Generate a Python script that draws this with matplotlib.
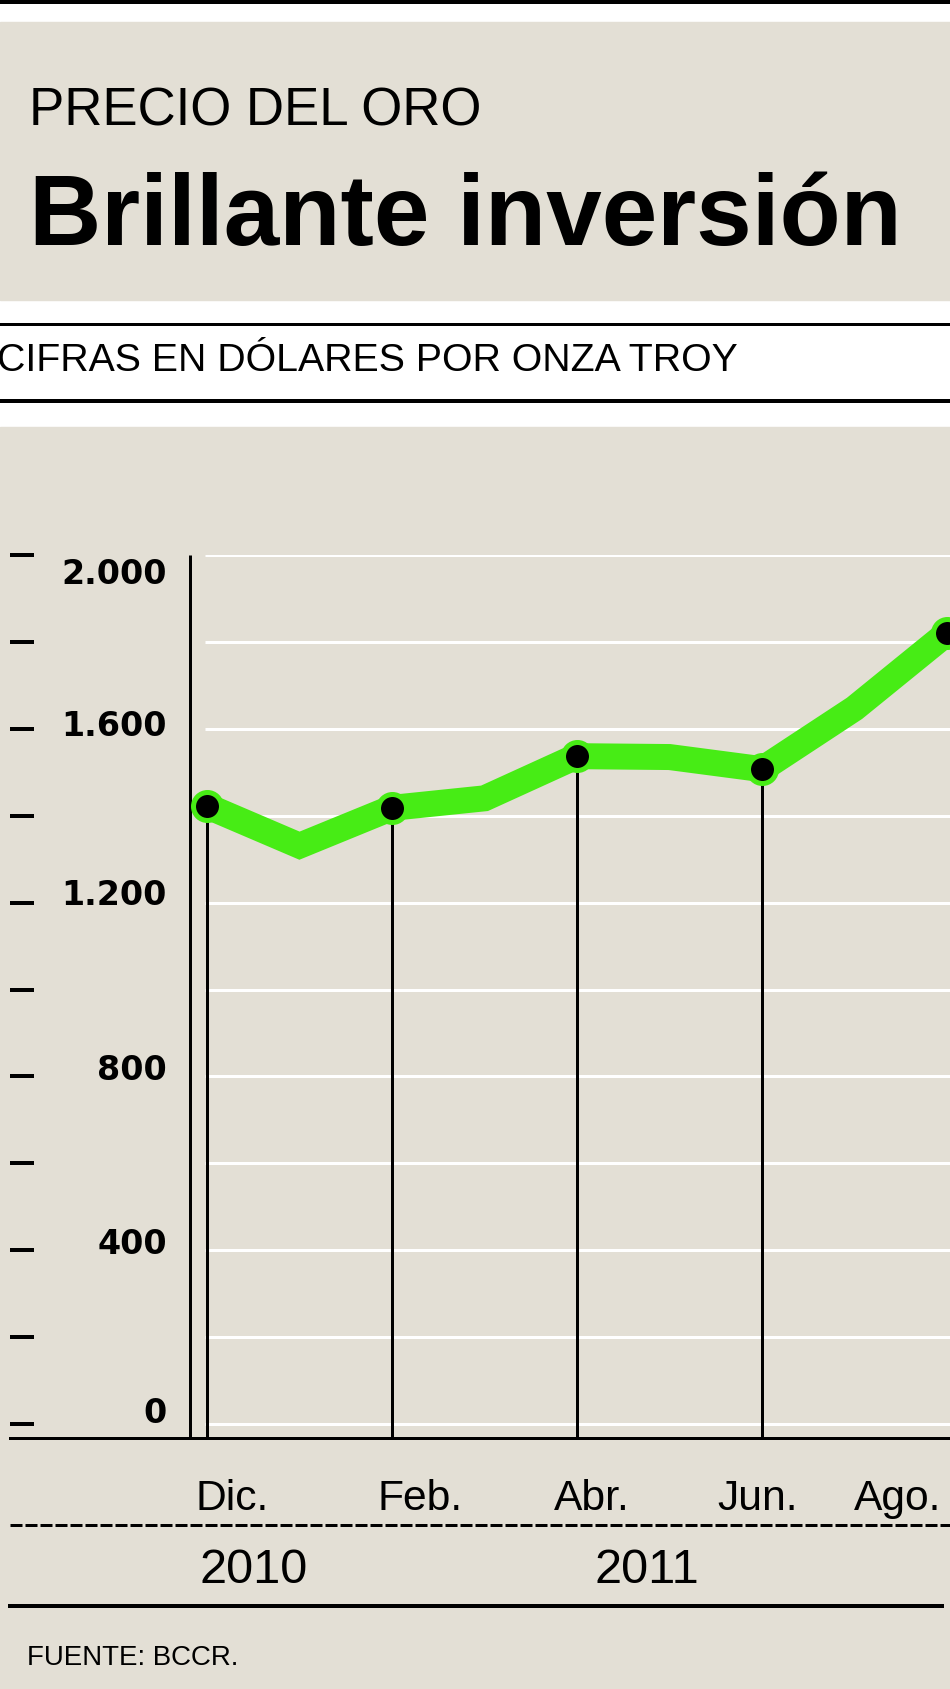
import numpy as np
import matplotlib
matplotlib.use("Agg")
import matplotlib.pyplot as plt
import matplotlib.transforms as mtransforms
from matplotlib import font_manager
from matplotlib.patches import Rectangle
from matplotlib.lines import Line2D

# datos
meses = ["Dic.", "Ene.", "Feb.", "Mar.", "Abr.", "May.", "Jun.", "Jul.", "Ago."]
precio = [1422, 1331, 1418, 1440, 1537, 1535, 1507, 1647, 1820]
marcados = [0, 2, 4, 6, 8]          # meses con punto y etiqueta
anios = ["2010", "2011"]
ticks_y = [0, 400, 800, 1200, 1600, 2000]
grid_y = np.arange(0, 2001, 200)

BEIGE = "#e3dfd5"
VERDE = "#47ec15"

# tipografia estrecha si existe; si no, Liberation Sans algo mas chica
nombres = {f.name for f in font_manager.fontManager.ttflist}
if "Liberation Sans Narrow" in nombres:
    NARROW, ESC = "Liberation Sans Narrow", 1.0
else:
    NARROW, ESC = "Liberation Sans", 0.83
plt.rcParams["font.family"] = ["Liberation Sans", "DejaVu Sans"]

W, H = 950, 1689
PT = 0.72  # px -> pt a 100 dpi


def fx(px):
    return px / W


def fy(px):
    return 1 - px / H


fig = plt.figure(figsize=(9.5, 16.89), dpi=100, facecolor="white")

# fondos y filetes del encabezado
fig.patches.append(Rectangle((0, fy(300)), 1, (300 - 22) / H, transform=fig.transFigure,
                             color=BEIGE, zorder=-2))
fig.patches.append(Rectangle((0, 0), 1, fy(427), transform=fig.transFigure,
                             color=BEIGE, zorder=-2))
for ypx, lw in [(2, 4), (323.5, 3), (400.5, 4)]:
    fig.add_artist(Line2D([0, 1], [fy(ypx), fy(ypx)], lw=lw * PT, color="black"))

fig.text(fx(29), fy(126), "PRECIO DEL ORO", fontsize=38, color="black", va="baseline")
fig.text(fx(29), fy(245), "Brillante inversión", fontsize=72, fontweight="bold",
         color="black", va="baseline")
fig.text(fx(-3), fy(371), "CIFRAS EN DÓLARES POR ONZA TROY", fontsize=34 * ESC,
         family=[NARROW, "DejaVu Sans"], va="baseline")

# area del grafico
mes_px = 92.5        # px por mes
x0_px = 207          # posicion de Dic.
px_por_unidad = (1424 - 555) / 2000
ax = fig.add_axes([fx(10), fy(1438), fx(940), (1438 - 555) / H])
ax.set_facecolor("none")
ax.set_zorder(1)
ax.set_xlim((10 - x0_px) / mes_px, (950 - x0_px) / mes_px)
ax.set_ylim(-(1438 - 1424) / px_por_unidad, 2000)
for s in ["top", "right", "left"]:
    ax.spines[s].set_visible(False)
ax.spines["bottom"].set_linewidth(3 * PT)
ax.spines["bottom"].set_color("black")
ax.set_xticks([])
ax.set_yticks([])

x = np.arange(len(meses))
ymin = ax.get_ylim()[0]

# lineas de guia blancas
ax.hlines(grid_y, (205 - x0_px) / mes_px, ax.get_xlim()[1], color="white", lw=3 * PT, zorder=1)

# eje vertical
ax.vlines((190 - x0_px) / mes_px, ymin, 2000, color="black", lw=3 * PT, zorder=2)

# marcas del eje y (a la izquierda)
ytr = ax.get_yaxis_transform()
ax.hlines(grid_y, 0, 24 / 940, transform=ytr, color="black", lw=4 * PT, zorder=2, clip_on=False)

# etiquetas del eje y
desplaz = {0: -1, 400: 4, 800: 4, 1200: 2, 1600: 7, 2000: 29}
for v in ticks_y:
    off = mtransforms.ScaledTranslation(0, -desplaz[v] / 100, fig.dpi_scale_trans)
    ax.text((167 - 10) / 940, v, f"{v:,}".replace(",", "."), transform=ytr + off,
            ha="right", va="baseline", fontsize=24, fontweight="bold",
            family="DejaVu Sans", color="black", clip_on=False)

# lineas verticales desde los puntos (la de Ago. queda fuera del recorte)
xm = x[marcados]
ym = np.array(precio)[marcados]
ax.vlines(xm[:-1], ymin, ym[:-1], color="black", lw=3 * PT, zorder=2)

# linea de precio
ax.plot(x, precio, color=VERDE, lw=26 * PT, solid_joinstyle="miter",
        solid_capstyle="butt", zorder=3, clip_on=False)
ax.plot(xm, ym, "o", ms=28 * PT, mfc="black", mec=VERDE, mew=5 * PT, zorder=4, clip_on=False)

# meses y anios bajo el grafico
btr = mtransforms.blended_transform_factory(ax.transData, fig.transFigure)
ajuste_mes = [0.27, 0.3, 0.16, -0.05, -0.53]
for i, aj in zip(marcados, ajuste_mes):
    ax.text(i + aj, fy(1510), meses[i], transform=btr, ha="center", va="baseline",
            fontsize=37 * ESC, family=[NARROW, "DejaVu Sans"], clip_on=False)

pos_anio = [0.5, 4.76]
for a, p in zip(anios, pos_anio):
    ax.text(p, fy(1583), a, transform=btr, ha="center", va="baseline",
            fontsize=35, clip_on=False)

fig.add_artist(Line2D([fx(10), 1], [fy(1525), fy(1525)], lw=3 * PT, color="black",
                      ls=(0, (4, 1))))
fig.add_artist(Line2D([fx(10), fx(942)], [fy(1606), fy(1606)], lw=4 * PT, color="black"))

fig.text(fx(27), fy(1665), "FUENTE: BCCR.", fontsize=24 * ESC, family=[NARROW, "DejaVu Sans"],
         va="baseline")

fig.savefig("out.png", dpi=100, facecolor="white")
